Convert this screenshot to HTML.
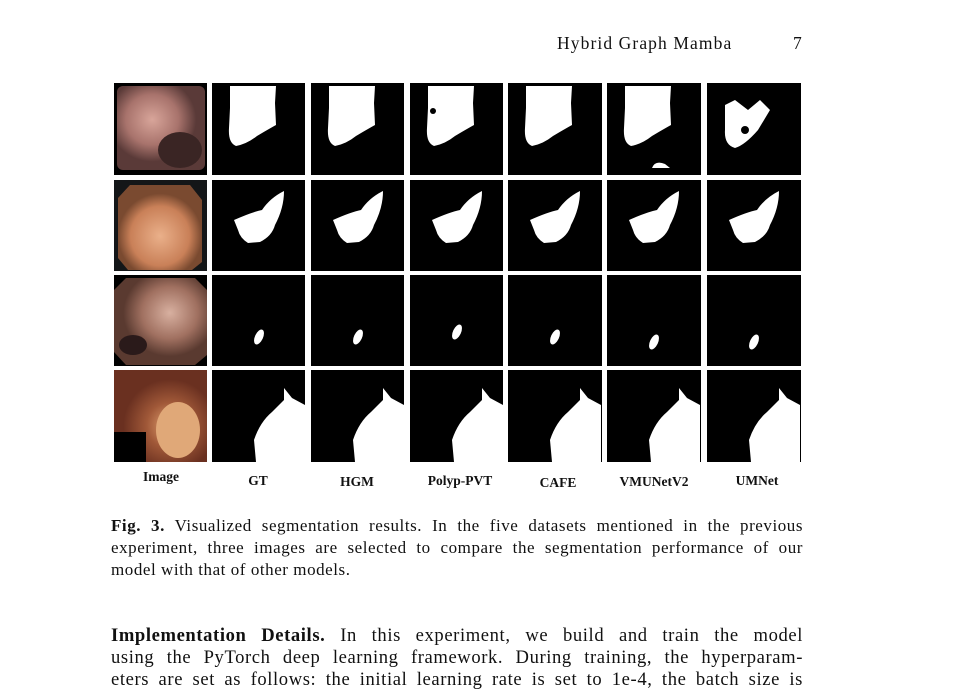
<!DOCTYPE html>
<html><head><meta charset="utf-8"><style>
body{margin:0;width:963px;height:693px;background:#fff;overflow:hidden;position:relative;font-family:"Liberation Serif",serif;color:#111}
.t{position:absolute;white-space:nowrap}
.ln{position:absolute;left:111px;width:692px;text-align:justify;text-align-last:justify;white-space:nowrap;overflow:visible}
.ln.l{text-align-last:left}
.c{font-size:17px;letter-spacing:0.55px}
.b{font-size:18.6px;letter-spacing:0.6px}
.lbl{position:absolute;font-weight:bold;font-size:13.5px;text-align:center;width:100px}
</style></head><body>
<div class="t" style="left:557px;top:33px;font-size:17.5px;letter-spacing:1.1px">Hybrid Graph Mamba</div>
<div class="t" style="left:793px;top:33px;font-size:17.5px">7</div>
<svg style="position:absolute;left:0;top:0" width="963" height="470">
<defs>
<radialGradient id="p1" cx="40%" cy="40%"><stop offset="0" stop-color="#d8a59a"/><stop offset=".6" stop-color="#a8736c"/><stop offset="1" stop-color="#5a3a38"/></radialGradient>
<radialGradient id="p2" cx="50%" cy="60%"><stop offset="0" stop-color="#eab08a"/><stop offset=".7" stop-color="#c98058"/><stop offset="1" stop-color="#7a4a30"/></radialGradient>
<radialGradient id="p3" cx="60%" cy="40%"><stop offset="0" stop-color="#d8b0a0"/><stop offset=".6" stop-color="#a07060"/><stop offset="1" stop-color="#5a3a30"/></radialGradient>
<radialGradient id="p4" cx="60%" cy="60%"><stop offset="0" stop-color="#e0a070"/><stop offset=".5" stop-color="#a05838"/><stop offset="1" stop-color="#6a3020"/></radialGradient>
<g id="m1"><path d="M18,3 L64,3 L63,20 L64,42 Q55,47 45,53 Q35,61 24,63 Q16,60 17,45 L18,25 Z" fill="#fff"/></g>
<g id="m2"><path d="M22,40 Q40,32 50,30 Q58,18 72,11 Q72,28 63,45 Q60,56 48,62 L36,63 Q28,58 26,50 Z" fill="#fff"/></g>
<g id="m3"><ellipse cx="47" cy="62" rx="4" ry="8" transform="rotate(25 47 62)" fill="#fff"/></g>
<g id="m4"><path d="M44,92 L42,70 Q48,52 60,42 L72,30 L72,18 L80,28 L93,35 L93,92 Z" fill="#fff"/></g>
</defs>
<g fill="#000">
<rect x="114" y="83" width="93" height="92"/><rect x="114" y="180" width="93" height="91" fill="#141618"/><rect x="114" y="275" width="93" height="91"/><rect x="114" y="370" width="93" height="92"/>
</g>
<rect x="117" y="86" width="88" height="84" rx="6" fill="url(#p1)"/>
<ellipse cx="180" cy="150" rx="22" ry="18" fill="#3a2524"/>
<polygon points="130,185 190,185 202,200 202,262 192,270 128,270 118,258 118,198" fill="url(#p2)"/>
<polygon points="126,278 195,278 207,290 207,355 195,365 126,365 114,352 114,290" fill="url(#p3)"/>
<ellipse cx="133" cy="345" rx="14" ry="10" fill="#2a1a1a"/>
<path d="M114,370 H207 V462 H146 V432 H114 Z" fill="url(#p4)"/>
<ellipse cx="178" cy="430" rx="22" ry="28" fill="#e0a878"/>
<g>
<rect x="212" y="83" width="93" height="92"/><use href="#m1" x="212" y="83"/>
<rect x="311" y="83" width="93" height="92"/><use href="#m1" x="311" y="83"/>
<rect x="410" y="83" width="93" height="92"/><use href="#m1" x="410" y="83"/><circle cx="433" cy="111" r="3" fill="#000"/>
<rect x="508" y="83" width="94" height="92"/><use href="#m1" x="508" y="83"/>
<rect x="607" y="83" width="94" height="92"/><use href="#m1" x="607" y="83"/><path d="M652,168 Q655,160 665,164 L670,168 Z" fill="#fff"/>
<rect x="707" y="83" width="94" height="92"/><path d="M725,105 L735,100 L748,110 L760,100 L770,110 L758,130 Q745,145 735,148 Q724,145 725,130 Z" fill="#fff"/><circle cx="745" cy="130" r="4"/>
<rect x="212" y="180" width="93" height="91"/><use href="#m2" x="212" y="180"/>
<rect x="311" y="180" width="93" height="91"/><use href="#m2" x="311" y="180"/>
<rect x="410" y="180" width="93" height="91"/><use href="#m2" x="410" y="180"/>
<rect x="508" y="180" width="94" height="91"/><use href="#m2" x="508" y="180"/>
<rect x="607" y="180" width="94" height="91"/><use href="#m2" x="607" y="180"/>
<rect x="707" y="180" width="94" height="91"/><use href="#m2" x="707" y="180"/>
<rect x="212" y="275" width="93" height="91"/><use href="#m3" x="212" y="275"/>
<rect x="311" y="275" width="93" height="91"/><use href="#m3" x="311" y="275"/>
<rect x="410" y="275" width="93" height="91"/><use href="#m3" x="410" y="270"/>
<rect x="508" y="275" width="94" height="91"/><use href="#m3" x="508" y="275"/>
<rect x="607" y="275" width="94" height="91"/><use href="#m3" x="607" y="280"/>
<rect x="707" y="275" width="94" height="91"/><use href="#m3" x="707" y="280"/>
<rect x="212" y="370" width="93" height="92"/><use href="#m4" x="212" y="370"/>
<rect x="311" y="370" width="93" height="92"/><use href="#m4" x="311" y="370"/>
<rect x="410" y="370" width="93" height="92"/><use href="#m4" x="410" y="370"/>
<rect x="508" y="370" width="94" height="92"/><use href="#m4" x="508" y="370"/>
<rect x="607" y="370" width="94" height="92"/><use href="#m4" x="607" y="370"/>
<rect x="707" y="370" width="94" height="92"/><use href="#m4" x="707" y="370"/>
</g>
</svg>
<div class="lbl" style="left:111px;top:469px">Image</div>
<div class="lbl" style="left:208px;top:473px">GT</div>
<div class="lbl" style="left:307px;top:474px">HGM</div>
<div class="lbl" style="left:410px;top:473px;width:100px">Polyp-PVT</div>
<div class="lbl" style="left:508px;top:475px">CAFE</div>
<div class="lbl" style="left:604px;top:474px">VMUNetV2</div>
<div class="lbl" style="left:707px;top:473px">UMNet</div>
<div class="ln c" style="top:516px"><b>Fig. 3.</b> Visualized segmentation results. In the five datasets mentioned in the previous</div>
<div class="ln c" style="top:538px">experiment, three images are selected to compare the segmentation performance of our</div>
<div class="ln c l" style="top:560px">model with that of other models.</div>
<div class="ln b" style="top:625px"><b>Implementation Details.</b> In this experiment, we build and train the model</div>
<div class="ln b" style="top:647px">using the PyTorch deep learning framework. During training, the hyperparam-</div>
<div class="ln b" style="top:669px">eters are set as follows: the initial learning rate is set to 1e-4, the batch size is</div>
</body></html>
